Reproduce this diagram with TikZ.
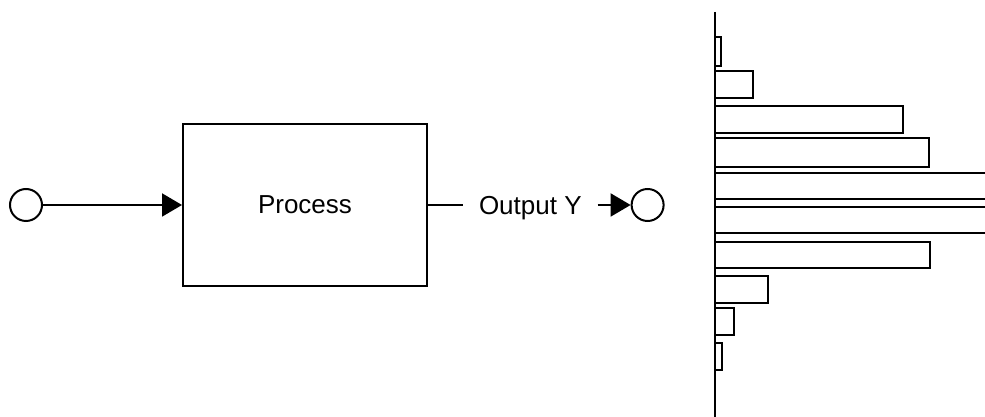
\documentclass[tikz,border=0pt]{standalone}
\usepackage{fontspec}
\setmainfont{Liberation Sans}
\usetikzlibrary{positioning, arrows.meta}

\begin{document}
\begin{tikzpicture}[x=1pt, y=1pt, line width=2pt,
    >={Triangle[length=20pt, width=23pt]},
    port/.style={circle, draw, minimum size=32pt, inner sep=0pt},
    block/.style={rectangle, draw, minimum width=244pt, minimum height=162pt,
                  text depth=0pt},
    lbl/.style={inner sep=15pt, text depth=0pt},
    bar/.style={draw, line width=1.8pt}]

  \clip (0,0) rectangle (985,417);

  % Process
  \node[port] (in) at (26,212) {};
  \node[block, right=139pt of in] (proc) {\fontsize{26}{30}\selectfont Process};
  \node[lbl, right=35pt of proc] (outlbl) {\fontsize{26}{30}\selectfont Output Y};
  \node[port, right=33pt of outlbl] (out) {};

  \draw[->] (in) -- (proc);
  \draw (proc) -- (outlbl);
  \draw[->] (outlbl) -- (out);

  % Histogram of Y
  \coordinate (axtop) at (715,405);
  \coordinate (axbot) at (715,0);
  \draw (axtop) -- (axbot);
  \foreach \top/\bot/\len in {380/351/721, 346/319/753, 311/284/903, 279/250/929,
                              244/218/1000, 210/184/1000, 175/149/930,
                              141/114/768, 109/82/734, 74/47/722}
    \draw[bar] (715,\bot) rectangle (\len,\top);

\end{tikzpicture}
\end{document}
